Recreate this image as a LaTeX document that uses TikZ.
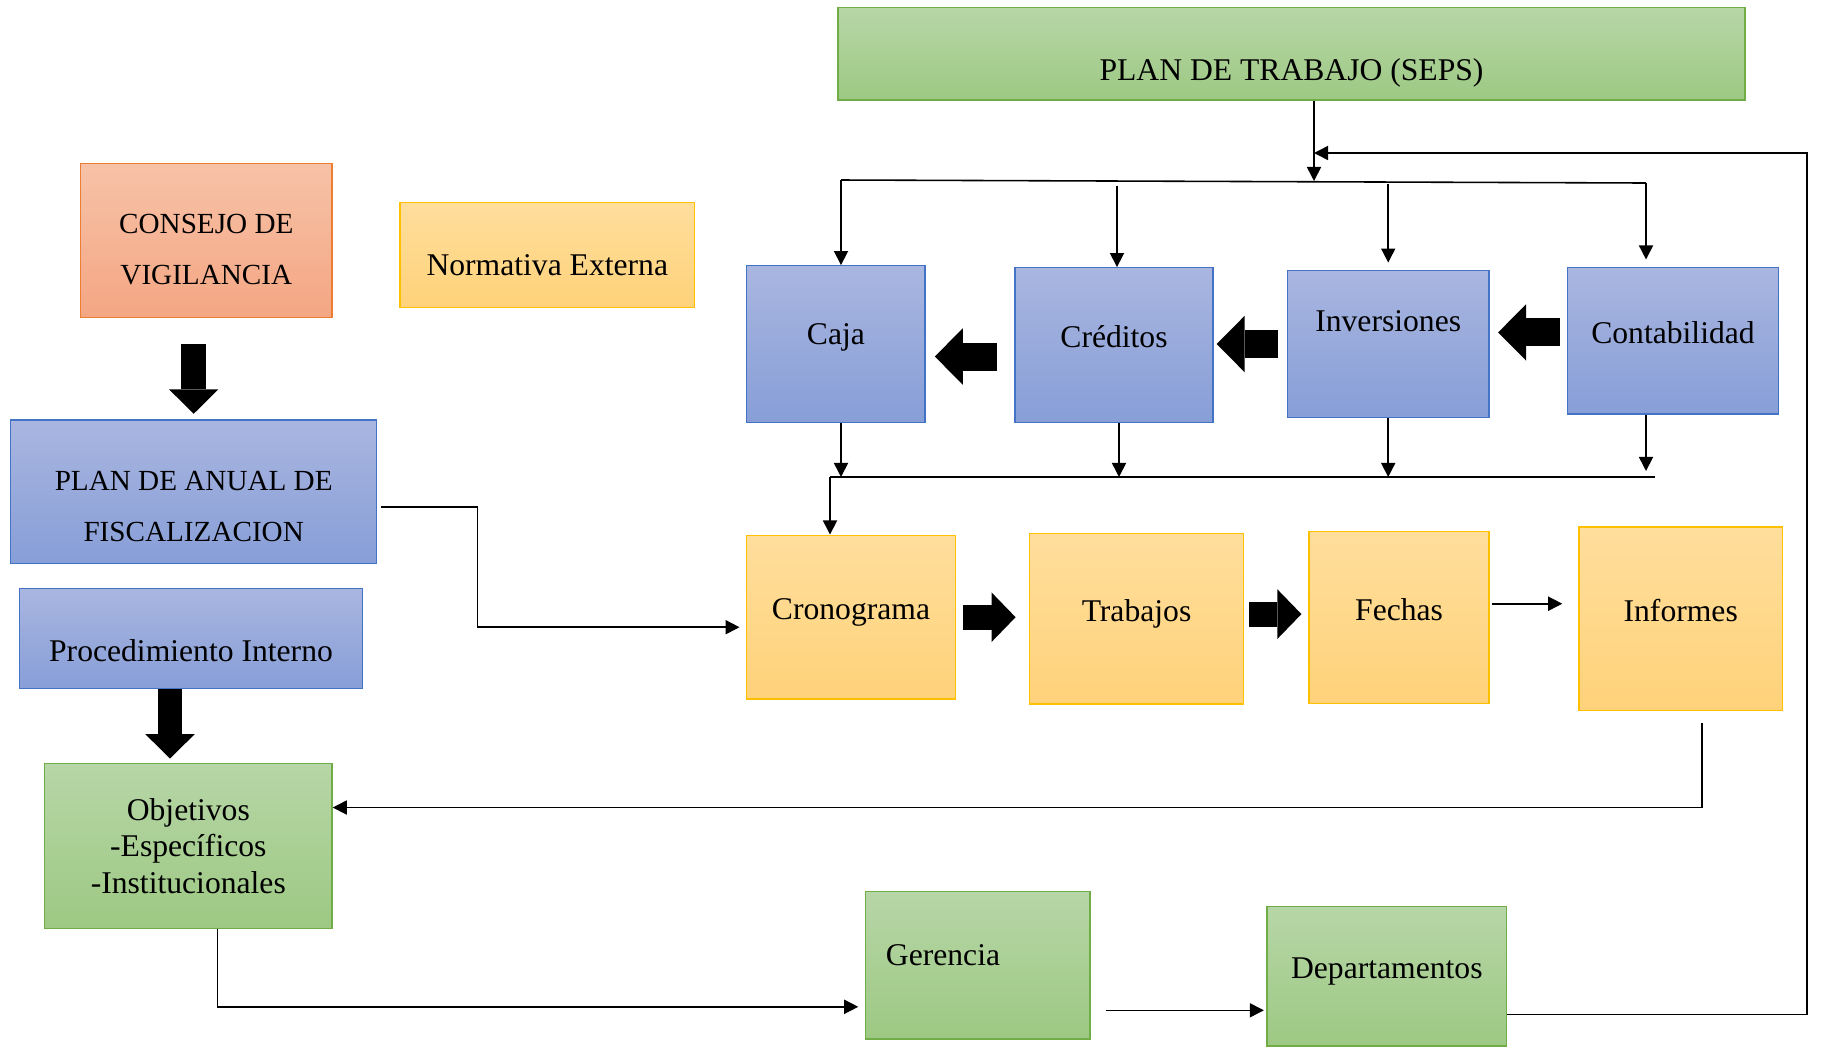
\documentclass[tikz,border=0pt]{standalone}
\usepackage{fontspec}
\setmainfont{Liberation Serif}
\usepackage{xcolor}
\usetikzlibrary{arrows.meta, positioning, calc}

% Office-like gradient palettes
\definecolor{orgTop}{RGB}{247,194,167}
\definecolor{orgBot}{RGB}{244,166,131}
\definecolor{orgLine}{RGB}{237,125,49}
\definecolor{ylwTop}{RGB}{255,222,156}
\definecolor{ylwBot}{RGB}{255,210,122}
\definecolor{ylwLine}{RGB}{255,192,0}
\definecolor{bluTop}{RGB}{169,182,224}
\definecolor{bluBot}{RGB}{135,158,215}
\definecolor{bluLine}{RGB}{68,114,196}
\definecolor{grnTop}{RGB}{183,214,167}
\definecolor{grnBot}{RGB}{157,201,131}
\definecolor{grnLine}{RGB}{112,173,71}

\begin{document}
\begin{tikzpicture}[
  x=0.02cm, y=-0.02cm,
  box/.style={draw, line width=0.8pt, inner sep=0pt, align=center,
    font=\fontsize{18}{21}\selectfont},
  orangebox/.style={box, draw=orgLine, top color=orgTop, bottom color=orgBot},
  yellowbox/.style={box, draw=ylwLine, top color=ylwTop, bottom color=ylwBot},
  bluebox/.style={box, draw=bluLine, top color=bluTop, bottom color=bluBot},
  greenbox/.style={box, draw=grnLine, top color=grnTop, bottom color=grnBot},
  capstext/.style={font=\fontsize{16.6}{29}\selectfont},
  raised/.style={text height=12.3pt, text depth=9.5pt},
  wire/.style={line width=0.9pt},
  link/.style={wire, -{Triangle[length=8pt, width=8pt]}},
  fatdown/.style={line width=0.49cm,
    -{Triangle[length=0.49cm, width=0.99cm, line width=0pt]}},
  fatleft/.style={line width=0.56cm,
    -{Triangle[length=0.56cm, width=1.13cm, line width=0pt]}},
  fatright/.style={line width=0.5cm,
    -{Triangle[length=0.48cm, width=0.99cm, line width=0pt]}}
]
\useasboundingbox (0,0) rectangle (1821,1046);

% --- left column ---
\node[orangebox, capstext, minimum width=5.03cm, minimum height=3.09cm] (consejo) at (206.3,240.5)
  {\rule{0pt}{21pt}CONSEJO DE\\VIGILANCIA};
\node[yellowbox, minimum width=5.89cm, minimum height=2.11cm, text height=23.4pt, text depth=0pt] (normativa) at (547.3,255) {Normativa Externa};
\node[bluebox, capstext, minimum width=7.32cm, minimum height=2.87cm] (anual) at (193.7,491.7)
  {\rule{0pt}{28pt}PLAN DE ANUAL DE\\FISCALIZACION};
\node[bluebox, minimum width=6.86cm, minimum height=2.0cm, text height=25.8pt, text depth=0pt] (proc) at (191,638.7) {Procedimiento Interno};
\node[greenbox, minimum width=5.75cm, minimum height=3.29cm, font=\fontsize{18}{20.7}\selectfont] (obj) at (188.3,846)
  {Objetivos\\-Específicos\\-Institucionales};

% --- top plan and areas ---
\node[greenbox, minimum width=18.14cm, minimum height=1.85cm, text height=33.7pt, text depth=3.2pt] (trabajo) at (1291.5,53.7) {PLAN DE TRABAJO (SEPS)};
\node[bluebox, minimum width=3.57cm, minimum height=3.13cm, text height=12.3pt, text depth=11.7pt] (caja) at (835.9,344) {Caja};
\node[bluebox, raised, minimum width=3.96cm, minimum height=3.09cm] (cred) at (1114,345) {Créditos};
\node[bluebox, minimum width=4.03cm, minimum height=2.95cm, text height=12.3pt, text depth=26.7pt] (inv) at (1388.2,344) {Inversiones};
\node[bluebox, raised, minimum width=4.21cm, minimum height=2.93cm] (cont) at (1673,340.9) {Contabilidad};

% --- schedule row ---
\node[yellowbox, raised, minimum width=4.17cm, minimum height=3.28cm] (crono) at (851,617.2) {Cronograma};
\node[yellowbox, raised, minimum width=4.27cm, minimum height=3.41cm] (trab) at (1136.5,618.6) {Trabajos};
\node[yellowbox, raised, minimum width=3.6cm, minimum height=3.44cm] (fechas) at (1399.1,617.7) {Fechas};
\node[yellowbox, raised, minimum width=4.07cm, minimum height=3.67cm] (inf) at (1680.7,618.7) {Informes};

% --- bottom row ---
\node[greenbox, minimum width=4.49cm, minimum height=2.95cm, inner xsep=0.41cm, text width=3.67cm, align=left,
  text height=12.3pt, text depth=12.3pt] (ger) at (977.7,965.3) {Gerencia};
\node[greenbox, raised, minimum width=4.79cm, minimum height=2.79cm] (dep) at (1386.8,976.4) {Departamentos};

% --- bus lines ---
\coordinate (split) at (1314,181);
\coordinate (busL) at (841,180);
\coordinate (busR) at (1646,183);
\coordinate (lowL) at (830,477);
\coordinate (lowR) at (1655,477);
\coordinate (loopR) at (1807,153);
\coordinate (bend) at (477.5,560);

\draw[link] (trabajo.south -| split) -- (split);
\draw[wire] (busL) -- (busR);
\draw[link] (busL) -- (busL |- caja.north);
\draw[link, shorten <=0.11cm] ([xshift=0.06cm]busL -| cred.north) -- ([xshift=0.06cm]cred.north);
\draw[link, shorten <=0.07cm, shorten >=0.14cm] (busL -| inv.north) -- (inv.north);
\draw[link, shorten >=0.15cm] (busR) -- (busR |- cont.north);

\draw[wire] (lowL) -- (lowR);
\draw[link] (caja.south -| busL) -- (lowL -| busL);
\draw[link] ([xshift=0.1cm]cred.south) -- ([xshift=0.1cm]cred.south |- lowL);
\draw[link] (inv.south) -- (inv.south |- lowL);
\draw[link, shorten >=0.12cm] (cont.south -| busR) -- (busR |- lowL);
\draw[link] (lowL) -- (lowL |- crono.north);

% --- block arrows ---
\draw[fatdown, shorten <=0.51cm, shorten >=0.11cm] (consejo.south -| anual.north) -- (anual.north);
\draw[fatdown, shorten >=0.09cm] ([xshift=-0.42cm]proc.south) -- ([xshift=-0.42cm]proc.south |- obj.north);
\draw[fatleft, shorten <=0.35cm, shorten >=0.18cm] ([yshift=-0.23cm]cred.west) -- ([yshift=-0.23cm]cred.west -| caja.east);
\draw[fatleft, shorten <=0.17cm, shorten >=0.06cm] (inv.west) -- (inv.west -| cred.east);
\draw[fatleft, shorten <=0.14cm, shorten >=0.17cm] ([yshift=0.17cm]cont.west) -- ([yshift=0.17cm]cont.west -| inv.east);
\draw[fatright, shorten <=0.15cm, shorten >=0.27cm] (crono.east) -- (crono.east -| trab.west);
\draw[fatright, shorten <=0.11cm, shorten >=0.14cm] ([yshift=0.09cm]trab.east) -- ([yshift=0.09cm]trab.east -| fechas.west);

% --- thin connectors ---
\draw[link, shorten <=0.04cm, shorten >=0.32cm] ([yshift=0.28cm]fechas.east) -- ([yshift=0.28cm]fechas.east -| inf.west);
\draw[link, shorten <=0.08cm, shorten >=0.13cm] ([yshift=-0.3cm]anual.east) -| (bend) |- ([yshift=-0.2cm]crono.west);
\draw[link, shorten <=0.24cm] ([xshift=0.42cm]inf.south) |- ([yshift=0.77cm]obj.east);
\draw[link, shorten >=0.13cm] ([xshift=0.58cm]obj.south) |- ([yshift=-0.83cm]ger.west);
\draw[link, shorten <=0.3cm, shorten >=0.05cm] ([yshift=-0.9cm]ger.east) -- ([yshift=-0.9cm]ger.east -| dep.west);
\draw[link] ([yshift=-0.76cm]dep.east) -| (loopR) -- (loopR -| split);

\end{tikzpicture}
\end{document}
